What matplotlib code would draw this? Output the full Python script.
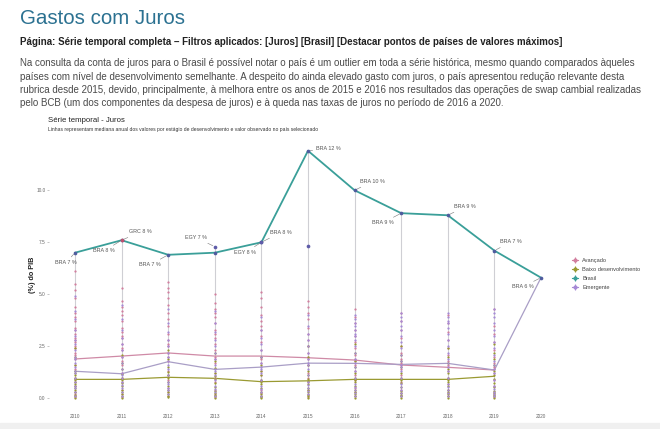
import matplotlib
matplotlib.use("Agg")
import matplotlib.pyplot as plt
from matplotlib.lines import Line2D

plt.rcParams["font.family"] = ["Liberation Sans", "DejaVu Sans"]

# ---- data ----
years = [2010, 2011, 2012, 2013, 2014, 2015, 2016, 2017, 2018, 2019, 2020]
brasil = [7.0, 7.6, 6.9, 7.0, 7.5, 11.9, 10.0, 8.9, 8.8, 7.1, 5.8]
brasil_labels = ["BRA 7 %", "BRA 8 %", "BRA 7 %", None, "BRA 8 %", "BRA 12 %",
                 "BRA 10 %", "BRA 9 %", "BRA 9 %", "BRA 7 %", "BRA 6 %"]

med_years = [2010, 2011, 2012, 2013, 2014, 2015, 2016, 2017, 2018, 2019]
med_avancado = [1.89, 2.03, 2.18, 2.03, 2.03, 1.95, 1.84, 1.60, 1.49, 1.36]
med_baixo = [0.91, 0.91, 1.01, 0.96, 0.80, 0.84, 0.91, 0.91, 0.91, 1.06]
emerg_years = [2010, 2011, 2012, 2013, 2014, 2015, 2016, 2017, 2018, 2019, 2020]
med_emergente = [1.30, 1.18, 1.76, 1.39, 1.50, 1.69, 1.68, 1.63, 1.68, 1.36, 5.8]

# highlighted maximum points of other countries
max_years = [2011, 2013, 2014, 2015]
max_values = [7.6, 7.29, 7.5, 7.3]
max_groups = ["Avançado", "Emergente", "Emergente", "Emergente"]
max_labels = ["GRC 8 %", "EGY 7 %", "EGY 8 %", None]

# country observations per year (values in % of GDP)
pts_avancado = {
    2010: [0.05, 0.2, 0.3, 0.6, 0.8, 1.0, 1.4, 1.6, 1.9, 2.1, 2.2, 2.4, 2.5, 2.7, 2.8, 2.9, 3.1, 3.3, 3.4,
           3.7, 3.9, 4.1, 4.4, 4.8, 5.2, 5.5, 6.1],
    2011: [0.05, 0.2, 0.4, 0.8, 1.0, 1.2, 1.6, 1.8, 2.0, 2.3, 2.4, 2.6, 2.9, 3.0, 3.2, 3.4, 3.7, 4.0,
           4.2, 4.4, 4.7, 5.3],
    2012: [0.1, 0.3, 0.5, 0.9, 1.1, 1.3, 1.8, 2.0, 2.2, 2.5, 2.6, 2.8, 3.1, 3.5, 3.8, 4.1, 4.5, 4.8,
           5.1, 5.3, 5.6],
    2013: [0.05, 0.2, 0.4, 0.8, 1.0, 1.2, 1.7, 1.9, 2.0, 2.3, 2.6, 2.9, 3.1, 3.3, 3.6, 3.9, 4.1, 4.3,
           4.6, 5.0],
    2014: [0.1, 0.25, 0.4, 0.9, 1.1, 1.3, 1.7, 1.9, 2.0, 2.3, 2.7, 3.0, 3.3, 3.5, 3.7, 4.0, 4.4, 4.8, 5.1],
    2015: [0.05, 0.2, 0.4, 0.8, 1.0, 1.2, 1.6, 1.9, 2.0, 2.2, 2.5, 2.8, 3.1, 3.4, 3.8, 4.1, 4.4, 4.7],
    2016: [0.1, 0.3, 0.5, 0.9, 1.1, 1.3, 1.6, 1.8, 1.9, 2.1, 2.4, 2.7, 3.0, 3.3, 3.6, 3.9, 4.3],
    2017: [0.1, 0.25, 0.4, 0.8, 1.1, 1.4, 1.6, 1.7, 1.9, 2.2, 2.5, 2.9, 3.3, 3.7, 4.1],
    2018: [0.1, 0.25, 0.4, 0.7, 1.0, 1.3, 1.5, 1.6, 1.8, 2.1, 2.4, 2.8, 3.2, 3.6, 4.0],
    2019: [0.05, 0.2, 0.3, 0.6, 0.9, 1.2, 1.4, 1.5, 1.7, 2.0, 2.3, 2.7, 3.1, 3.5, 4.3],
}
pts_baixo = {
    2010: [0.0, 0.1, 0.15, 0.3, 0.4, 0.5, 0.6, 0.7, 0.8, 0.9, 1.0, 1.1, 1.2, 1.3, 1.6, 2.0, 2.4],
    2011: [0.0, 0.1, 0.2, 0.3, 0.4, 0.6, 0.75, 0.9, 1.0, 1.15, 1.4, 1.7, 2.1],
    2012: [0.05, 0.1, 0.2, 0.3, 0.4, 0.6, 0.8, 1.0, 1.1, 1.25, 1.5, 1.9, 2.3],
    2013: [0.0, 0.1, 0.15, 0.25, 0.35, 0.55, 0.75, 0.95, 1.05, 1.2, 1.45, 1.8, 2.2],
    2014: [0.0, 0.05, 0.1, 0.2, 0.3, 0.5, 0.7, 0.8, 0.9, 1.1, 1.3, 1.6, 2.0],
    2015: [0.0, 0.1, 0.15, 0.3, 0.4, 0.5, 0.7, 0.85, 0.95, 1.1, 1.3, 1.6, 2.0, 2.5],
    2016: [0.0, 0.1, 0.2, 0.3, 0.4, 0.6, 0.8, 0.9, 1.0, 1.2, 1.5, 1.8, 2.2, 2.6],
    2017: [0.0, 0.1, 0.15, 0.25, 0.35, 0.55, 0.75, 0.9, 1.0, 1.2, 1.5, 1.8, 2.1, 2.5],
    2018: [0.0, 0.1, 0.2, 0.3, 0.4, 0.6, 0.8, 0.9, 1.0, 1.2, 1.4, 1.7, 2.0, 2.4],
    2019: [0.0, 0.1, 0.15, 0.25, 0.35, 0.55, 0.75, 0.95, 1.1, 1.3, 1.6, 1.9, 2.2, 2.6],
}
pts_emergente = {
    2010: [0.1, 0.3, 0.5, 0.6, 0.8, 1.0, 1.2, 1.3, 1.5, 1.7, 1.9, 2.0, 2.3, 2.6, 2.8, 3.0, 3.3, 3.8, 4.2, 4.9],
    2011: [0.1, 0.3, 0.5, 0.65, 0.8, 1.0, 1.1, 1.2, 1.4, 1.7, 2.0, 2.3, 2.6, 2.9, 3.3, 3.8, 4.5],
    2012: [0.2, 0.4, 0.5, 0.7, 0.8, 1.1, 1.4, 1.6, 1.8, 2.0, 2.2, 2.5, 2.8, 3.2, 3.6, 4.3],
    2013: [0.1, 0.3, 0.45, 0.6, 0.9, 1.1, 1.3, 1.4, 1.6, 1.9, 2.2, 2.5, 2.8, 3.2, 3.6, 4.2],
    2014: [0.1, 0.3, 0.45, 0.6, 0.9, 1.2, 1.4, 1.5, 1.7, 2.0, 2.3, 2.6, 2.9, 3.3, 3.9],
    2015: [0.2, 0.35, 0.5, 0.65, 0.8, 1.1, 1.4, 1.6, 1.7, 1.9, 2.2, 2.5, 2.8, 3.1, 3.5, 4.0],
    2016: [0.1, 0.25, 0.4, 0.55, 0.7, 1.0, 1.3, 1.5, 1.7, 1.9, 2.2, 2.5, 2.8, 3.0, 3.1, 3.3, 3.5, 3.6, 3.8, 4.0],
    2017: [0.1, 0.25, 0.4, 0.55, 0.7, 1.0, 1.3, 1.5, 1.6, 1.8, 2.1, 2.4, 2.7, 3.0, 3.3, 3.5, 3.7, 3.9, 4.1],
    2018: [0.1, 0.25, 0.4, 0.55, 0.7, 1.0, 1.3, 1.5, 1.7, 1.9, 2.2, 2.5, 2.8, 3.1, 3.4, 3.6, 3.7, 3.9, 4.1],
    2019: [0.1, 0.2, 0.3, 0.45, 0.6, 0.9, 1.2, 1.4, 1.6, 1.8, 2.1, 2.4, 2.7, 3.0, 3.3, 3.6, 3.9, 4.1, 4.3],
}

group_names = ["Avançado", "Baixo desenvolvimento", "Brasil", "Emergente"]
colors = {"Avançado": "#d27f9f", "Baixo desenvolvimento": "#9a9a32",
          "Brasil": "#3a9f99", "Emergente": "#a68ad6"}

title = "Gastos com Juros"
subtitle = ("Página: Série temporal completa – Filtros aplicados: [Juros] [Brasil] "
            "[Destacar pontos de países de valores máximos]")
paragraph = [
    "Na consulta da conta de juros para o Brasil é possível notar o país é um outlier em toda a série histórica, mesmo quando comparados àqueles",
    "países com nível de desenvolvimento semelhante. A despeito do ainda elevado gasto com juros, o país apresentou redução relevante desta",
    "rubrica desde 2015, devido, principalmente, à melhora entre os anos de 2015 e 2016 nos resultados das operações de swap cambial realizadas",
    "pelo BCB (um dos componentes da despesa de juros) e à queda nas taxas de juros no período de 2016 a 2020.",
]
# right edge (px) of each paragraph line in the screenshot
paragraph_ends = [640, 630, 647, 508]

# ---- figure ----
W, H = 660, 429
fig = plt.figure(figsize=(6.6, 4.29), dpi=100)
renderer = fig.canvas.get_renderer()


def fx(px):
    return px / W


def fy(py):
    return 1 - py / H


def fit_text(x, y, s, right, size, **kw):
    t = fig.text(fx(x), fy(y), s, fontsize=size, va="center", **kw)
    w = t.get_window_extent(renderer).width
    t.set_fontsize(size * (right - x) / w)
    return t


fig.text(fx(20), fy(18), title, fontsize=14.8, color="#2b7191", va="center")
fit_text(20, 42, subtitle, 562, 7.0, fontweight="bold", color="#222222")
for i, line in enumerate(paragraph):
    fit_text(20, 63 + i * 13.5, line, paragraph_ends[i], 6.8, color="#4a4a4a")

fig.text(fx(48), fy(120), "Série temporal - Juros", fontsize=5.6, color="#222222", va="center")
fig.text(fx(48), fy(129.5),
         "Linhas representam mediana anual dos valores por estágio de desenvolvimento e valor observado no país selecionado",
         fontsize=3.6, color="#333333", va="center")
fig.text(fx(32), fy(275), "(%) do PIB", rotation=90, fontsize=5.2, fontweight="bold",
         color="#222222", ha="center", va="center")

# axes: 2010 at x=75px, 46.6 px per year; 0 at y=398.3px, 20.8 px per unit
ax_l, ax_r, ax_t, ax_b = 49, 560, 140, 405
ax = fig.add_axes([fx(ax_l), fy(ax_b), (ax_r - ax_l) / W, (ax_b - ax_t) / H])
ax.set_xlim(2010 + (ax_l - 75) / 46.6, 2010 + (ax_r - 75) / 46.6)
ax.set_ylim((398.3 - ax_b) / 20.8, (398.3 - ax_t) / 20.8)
for s in ax.spines.values():
    s.set_visible(False)

# vertical guide segments per year
for i, yr in enumerate(years[:-1]):
    top = brasil[i]
    if yr in max_years:
        top = max(top, max_values[max_years.index(yr)])
    ax.plot([yr, yr], [0, top], color="#cfcfd4", lw=0.8, zorder=1)

# country dots
for name, pts in [("Avançado", pts_avancado), ("Baixo desenvolvimento", pts_baixo),
                  ("Emergente", pts_emergente)]:
    for yr, vals in pts.items():
        ax.scatter([yr] * len(vals), vals, s=2.6, color=colors[name], lw=0, zorder=3)

# medians
ax.plot(med_years, med_avancado, color="#cf8aa6", lw=0.9, zorder=2)
ax.plot(med_years, med_baixo, color=colors["Baixo desenvolvimento"], lw=0.9, zorder=2)
ax.plot(emerg_years, med_emergente, color="#a99ec6", lw=0.9, zorder=2)

# Brasil series
ax.plot(years, brasil, color=colors["Brasil"], lw=1.3, zorder=4)
ax.scatter(years, brasil, s=7, color="#4f5c9e", zorder=5, lw=0)

# highlighted max points
for yr, v, g in zip(max_years, max_values, max_groups):
    c = "#c0506e" if g == "Avançado" else "#5e5ba8"
    ax.scatter([yr], [v], s=7, color=c, zorder=6, lw=0)

# label offsets in pixels (dx right, dy up)
bra_offsets = [(-9, -10), (-17.5, -10.7), (-18, -10), None, (19, 9.7), (20.5, 2),
               (17.5, 8.7), (-18.5, -9.7), (17.5, 8.6), (16.5, 8.7), (-18.5, -9.3)]
max_offsets = [(19, 8.3), (-18.5, 9), (-16, -10), None]


def label(x, y, text, off):
    ax.annotate(text, (x, y), xytext=(off[0] * 0.72, off[1] * 0.72),
                textcoords="offset points", ha="center", va="center",
                fontsize=3.9, color="#555555", zorder=7,
                arrowprops=dict(arrowstyle="-", color="#777777", lw=0.4,
                                shrinkA=0.5, shrinkB=1.5))


for yr, v, t, off in zip(years, brasil, brasil_labels, bra_offsets):
    if t:
        label(yr, v, t, off)
for yr, v, t, off in zip(max_years, max_values, max_labels, max_offsets):
    if t:
        label(yr, v, t, off)

ax.set_xticks(years)
ax.set_xticklabels([str(y) for y in years])
ax.set_yticks([0, 2.5, 5.0, 7.5, 10.0])
ax.set_yticklabels(["0.0", "2.5", "5.0", "7.5", "10.0"])
ax.tick_params(axis="x", length=0, labelsize=3.4, labelcolor="#666666", pad=6.5)
ax.tick_params(axis="y", length=1.5, width=0.4, color="#999999",
               labelsize=3.4, labelcolor="#666666", pad=1)

# legend
handles = []
for name in group_names:
    c = colors[name]
    handles.append((Line2D([], [], color=c, lw=0.8),
                    Line2D([], [], color=c, marker="|", ms=4, mew=0.8, ls="none"),
                    Line2D([], [], color=c, marker="o", ms=2, ls="none")))
fig.legend(handles, group_names, loc="upper left", bbox_to_anchor=(fx(572), fy(258)),
           frameon=False, fontsize=4.1, handlelength=1.0, handletextpad=0.8,
           labelspacing=0.68, borderpad=0, borderaxespad=0, labelcolor="#444444")

fig.patches.append(plt.Rectangle((0, 0), 1, fy(423), transform=fig.transFigure,
                                 color="#f0f0f0", zorder=0))

fig.savefig("out.png", dpi=100)
